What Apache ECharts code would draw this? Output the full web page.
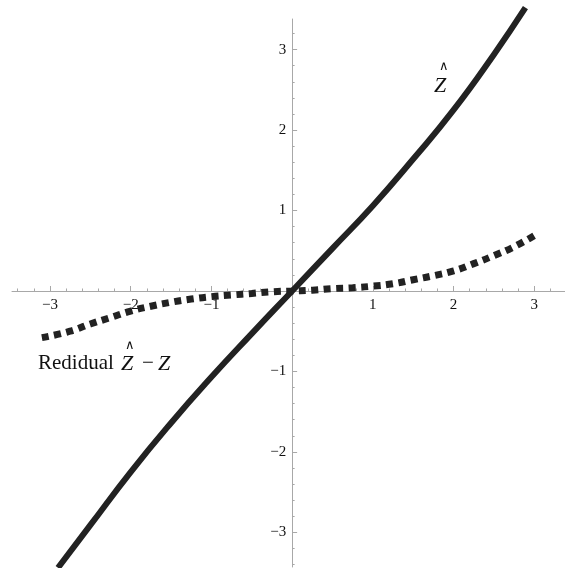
<!DOCTYPE html>
<html>
<head>
<meta charset="utf-8">
<script src="https://cdn.jsdelivr.net/npm/echarts@6/dist/echarts.min.js"></script>
<style>
  html, body { margin: 0; padding: 0; background: #fff; }
  #chart { width: 565px; height: 568px; }
</style>
</head>
<body>
<div id="chart"></div>
<script>
// Estimated curve Z-hat against standard score Z
const zHatX = [-2.9, -2.5, -2, -1.5, -1, -0.5, 0, 0.5, 1, 1.5, 2, 2.5, 2.89];
const zHatY = [-3.44, -2.91, -2.25, -1.64, -1.07, -0.53, 0, 0.53, 1.06, 1.64, 2.25, 2.94, 3.52];

// Residual Z-hat minus Z
const residX = [-3.1, -2.75, -2.5, -2.25, -2, -1.75, -1.5, -1.25, -1, -0.75, -0.5, -0.25, 0,
                0.25, 0.5, 0.75, 1, 1.25, 1.5, 1.75, 2, 2.25, 2.5, 2.75, 3.02];
const residY = [-0.58, -0.50, -0.41, -0.33, -0.25, -0.19, -0.14, -0.10, -0.07, -0.05, -0.03, -0.01, 0,
                0.01, 0.03, 0.04, 0.06, 0.09, 0.14, 0.19, 0.25, 0.34, 0.44, 0.55, 0.70];

// Tick positions
const majorTicks = [-3, -2, -1, 0, 1, 2, 3];
const labelTicks = [-3, -2, -1, 1, 2, 3];
const minorTicks = [];
for (let i = -17; i <= 17; i++) minorTicks.push(Math.round(i * 0.2 * 10) / 10);

const xRange = [-3.47, 3.38];
const yRange = [-3.43, 3.38];

// Plot area
const W = 565, H = 568;
const grid = { left: 12, right: 0, top: 19, bottom: 1 };
const plotW = W - grid.left - grid.right;
const plotH = H - grid.top - grid.bottom;

// Axes cross at the origin: shift each axis from its grid edge to zero
const zeroX = (0 - xRange[0]) / (xRange[1] - xRange[0]) * plotW;   // from left edge
const zeroY = (0 - yRange[0]) / (yRange[1] - yRange[0]) * plotH;   // from bottom edge

const pair = (xs, ys) => xs.map((x, i) => [x, ys[i]]);
const fmt = v => (v < 0 ? '\u2212' + Math.abs(v) : String(v));

const axisGray = '#a8a8a8';
const serif = 'Liberation Serif';

function axisPair(dim) {
  const isX = dim === 'x';
  const range = isX ? xRange : yRange;
  const base = {
    type: 'value',
    min: range[0],
    max: range[1],
    position: isX ? 'bottom' : 'left',
    offset: isX ? -zeroY : -zeroX,
    splitLine: { show: false },
    axisLine: { show: true, onZero: false, lineStyle: { color: axisGray, width: 1 } }
  };
  return [
    Object.assign({}, base, {
      axisTick: { show: true, inside: true, length: 2.5, customValues: minorTicks, lineStyle: { color: axisGray } },
      axisLabel: {
        show: true, customValues: labelTicks, formatter: fmt,
        margin: isX ? 7 : 6,
        color: '#111', fontFamily: serif, fontSize: 15
      }
    }),
    Object.assign({}, base, {
      axisLine: { show: false, onZero: false },
      axisTick: { show: true, inside: true, length: 5, customValues: majorTicks, lineStyle: { color: axisGray } },
      axisLabel: { show: false }
    })
  ];
}

const chart = echarts.init(document.getElementById('chart'), null, { renderer: 'canvas' });

chart.setOption({
  animation: false,
  backgroundColor: '#fff',
  grid: Object.assign({ containLabel: false, outerBoundsMode: 'none' }, grid),
  xAxis: axisPair('x'),
  yAxis: axisPair('y'),
  series: [
    {
      name: 'Residual',
      type: 'line',
      data: pair(residX, residY),
      smooth: true,
      showSymbol: false,
      clip: false,
      lineStyle: { color: '#222', width: 7, type: [7, 5.5], cap: 'butt' }
    },
    {
      name: 'Zhat',
      type: 'line',
      data: pair(zHatX, zHatY),
      smooth: true,
      showSymbol: false,
      clip: false,
      lineStyle: { color: '#222', width: 6, cap: 'butt' }
    }
  ],
  graphic: [
    // Z-hat label near the upper curve
    { type: 'text', left: 434, top: 75, style: { text: 'Z', font: 'italic 22px "Liberation Serif"', fill: '#111' } },
    { type: 'text', left: 439, top: 60, style: { text: '\u2227', font: '13px "DejaVu Sans"', fill: '#111' } },
    // Residual label
    { type: 'text', left: 38, top: 353, style: { text: 'Redidual', font: '21px "Liberation Serif"', fill: '#111' } },
    { type: 'text', left: 121, top: 353, style: { text: 'Z', font: 'italic 22px "Liberation Serif"', fill: '#111' } },
    { type: 'text', left: 125, top: 339, style: { text: '\u2227', font: '13px "DejaVu Sans"', fill: '#111' } },
    { type: 'text', left: 142, top: 353, style: { text: '\u2212', font: '21px "Liberation Serif"', fill: '#111' } },
    { type: 'text', left: 158, top: 353, style: { text: 'Z', font: 'italic 22px "Liberation Serif"', fill: '#111' } }
  ]
});
</script>
</body>
</html>
